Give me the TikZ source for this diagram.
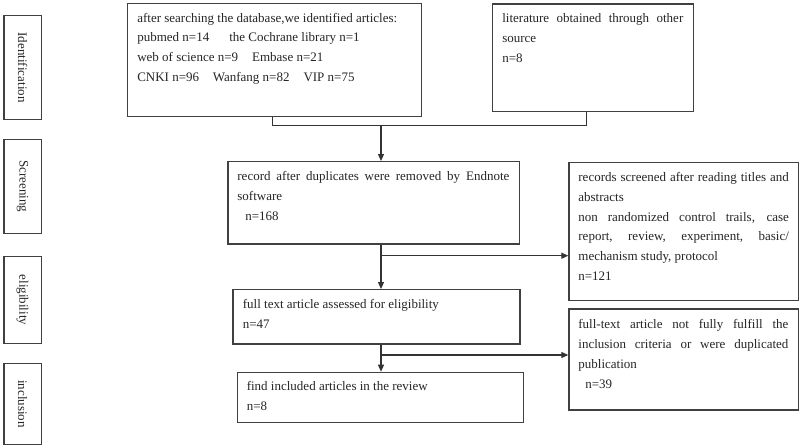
\documentclass[tikz,border=0pt]{standalone}
\usepackage{fontspec}
\setmainfont{Liberation Serif}
\usetikzlibrary{arrows.meta}
\newcommand{\firstline}{\vrule height 10pt depth 0pt width 0pt\relax}
\begin{document}
\begin{tikzpicture}[x=1pt,y=-1pt,
  line width=1.2pt,
  draw=black!80,
  box/.style={draw=black!75, line width=1.2pt, inner sep=0pt, anchor=north west},
  txt/.style={anchor=north west, inner sep=0pt, align=justify, text=black!85,
    font=\fontsize{13}{19.7}\selectfont},
  stagetxt/.style={rotate=-90, inner sep=0pt, text=black!85, font=\fontsize{13}{15}\selectfont},
  arr/.style={draw=black!80, line width=1.2pt, -{Triangle[length=7pt,width=6pt]}},
  con/.style={draw=black!80, line width=1.2pt}]
\useasboundingbox (0,0) rectangle (800,447);
\fill[white] (0,0) rectangle (800,447);

% stage boxes
\node[box, minimum width=37.4pt, minimum height=104pt] (S1) at (3.3,15) {};
\node[box, minimum width=37.4pt, minimum height=93.7pt] (S2) at (3.3,139) {};
\node[box, minimum width=37.4pt, minimum height=87.3pt] (S3) at (3.3,255.7) {};
\node[box, minimum width=37.4pt, minimum height=81pt] (S4) at (3.3,363) {};
\node[stagetxt] (S1t) at (S1.center) {Identification};
\node[stagetxt] (S2t) at (S2.center) {Screening};
\node[stagetxt] (S3t) at (S3.center) {eligibility};
\node[stagetxt] (S4t) at (S4.center) {inclusion};

% main boxes
\node[box, minimum width=294pt, minimum height=113pt] (A) at (126.7,2.7) {};
\node[box, minimum width=201pt, minimum height=107.4pt] (B) at (491.7,3.3) {};
\node[box, minimum width=291.7pt, minimum height=82.3pt] (C) at (227.3,161) {};
\node[box, minimum width=229.4pt, minimum height=138.3pt] (D) at (568.3,161.7) {};
\node[box, minimum width=287pt, minimum height=54.3pt] (E) at (232.3,289) {};
\node[box, minimum width=229.4pt, minimum height=101pt] (F) at (568.3,308.3) {};
\node[box, minimum width=286pt, minimum height=50.3pt] (G) at (236.7,371.7) {};

% texts
\node[txt, text width=274pt] (At) at ([shift={(10,9)}]A.north west)
  {\firstline after searching the database,we identified articles:\\
   pubmed n=14\hspace*{20pt}the Cochrane library n=1\\
   web of science n=9\hspace*{14pt}Embase n=21\\
   CNKI n=96\hspace*{13.7pt}Wanfang n=82\hspace*{14pt}VIP n=75};
\node[txt, text width=181pt] (Bt) at ([shift={(10,9)}]B.north west)
  {\firstline literature obtained through other\linebreak source\\ n=8};
\node[txt, text width=272pt] (Ct) at ([shift={(9.5,9)}]C.north west)
  {\firstline record after duplicates were removed by Endnote\linebreak software\\ \hspace*{8pt}n=168};
\node[txt, text width=210.5pt] (Dt) at ([shift={(9.5,9.5)}]D.north west)
  {\firstline records screened after reading titles and\linebreak abstracts\\
   non randomized control trails, case\linebreak report, review, experiment, basic/\linebreak mechanism study, protocol\\ n=121};
\node[txt, text width=267pt] (Et) at ([shift={(10,9)}]E.north west)
  {\firstline full text article assessed for eligibility\\ n=47};
\node[txt, text width=210pt] (Ft) at ([shift={(9.5,10)}]F.north west)
  {\firstline full-text article not fully fulfill the\linebreak inclusion criteria or were duplicated\linebreak publication\\ \hspace*{7pt}n=39};
\node[txt, text width=266pt] (Gt) at ([shift={(9.5,8.5)}]G.north west)
  {\firstline find included articles in the review\\ n=8};

% connectors
\coordinate (J) at (381,125.7);
\coordinate (K) at (381,255.7);
\coordinate (L) at (381,355);
\draw[con] ([xshift=-2pt]A.south) |- (J) -| ([xshift=-6.5pt]B.south);
\draw[arr] (J) -- (J |- C.north);
\draw[arr] (J |- C.south) -- (J |- E.north);
\draw[arr] (K) -- (K -| D.west);
\draw[arr] (J |- E.south) -- (J |- G.north);
\draw[arr] (L) -- (L -| F.west);
\end{tikzpicture}
\end{document}
